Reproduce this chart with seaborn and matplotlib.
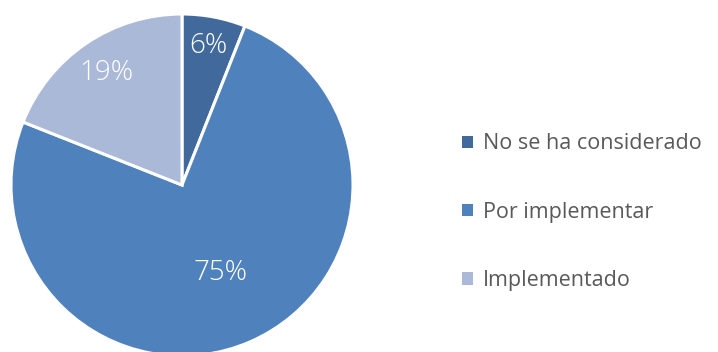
import numpy as np
import matplotlib
matplotlib.use("Agg")
import matplotlib.pyplot as plt
import seaborn as sns
from matplotlib.patches import Patch

sns.set_style("white")
plt.rcParams['font.family'] = ['Open Sans', 'DejaVu Sans']

categories = ["No se ha considerado", "Por implementar", "Implementado"]
values = [6, 75, 19]
colors = ["#41699C", "#4F81BD", "#AAB9D7"]
label_radius = [0.83, 0.56, 0.79]

fig = plt.figure(figsize=(7.18, 3.52), dpi=100)
ax = fig.add_axes([11 / 718, -4 / 352, 342 / 718, 342 / 352])

wedges, _ = ax.pie(values, colors=colors, startangle=90, counterclock=False,
                   radius=1.0, wedgeprops=dict(edgecolor="white", linewidth=2.2))
ax.set_xlim(-1, 1)
ax.set_ylim(-1, 1)
ax.set_aspect("equal")
ax.axis("off")

for w, v, r in zip(wedges, values, label_radius):
    ang = np.deg2rad((w.theta1 + w.theta2) / 2)
    ax.text(r * np.cos(ang), r * np.sin(ang), f"{v}%", ha="center", va="center",
            color="white", fontsize=20, fontweight="light")

handles = [Patch(facecolor=c, edgecolor="none") for c in colors]
fig.legend(handles, categories, loc="center left", bbox_to_anchor=(443 / 718, 0.397),
           frameon=False, fontsize=15.5, labelcolor="#595959", handlelength=0.5,
           handleheight=0.5, handletextpad=0.45, labelspacing=2.2)

fig.savefig("out.png", dpi=100)
